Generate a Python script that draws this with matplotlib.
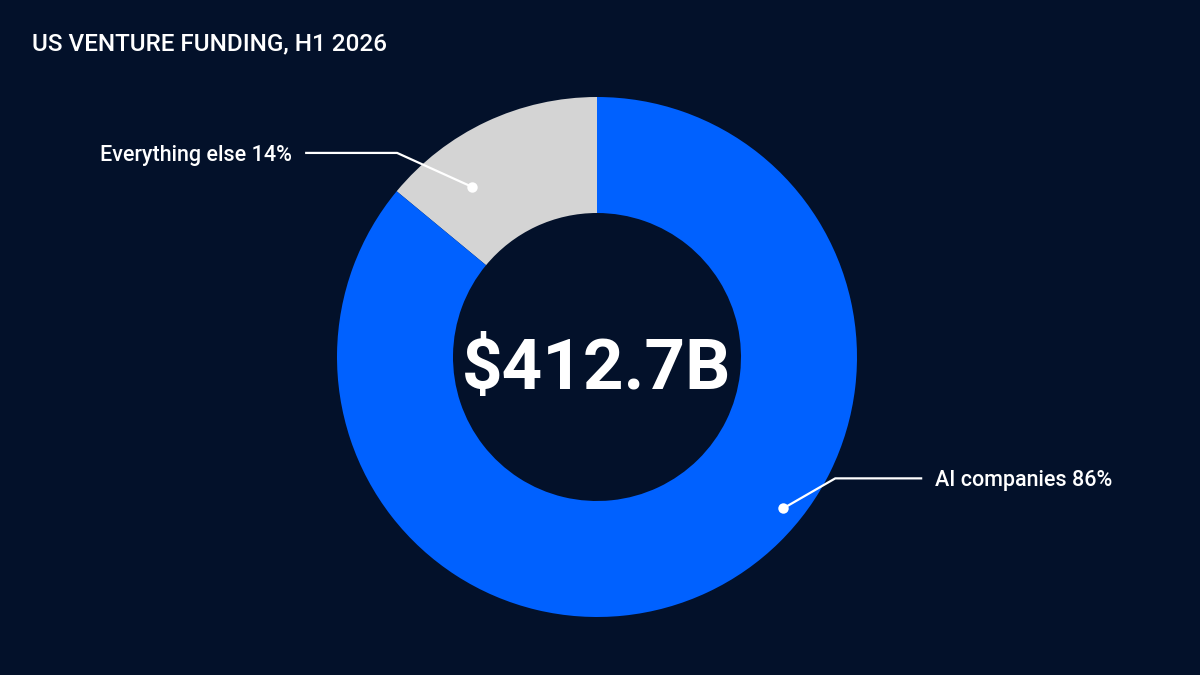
import numpy as np
import matplotlib
matplotlib.use("Agg")
import matplotlib.pyplot as plt

# -- data ---------------------------------------------------------------------
title = "US VENTURE FUNDING, H1 2026"
segments = ["Everything else", "AI companies"]
shares = [14, 86]
total_label = "$412.7B"

# -- style ----------------------------------------------------------------------
BG = "#03112a"
COLORS = ["#d4d4d4", "#0061ff"]
W, H = 1200, 675

fig = plt.figure(figsize=(12, 6.75), dpi=100, facecolor=BG)
ax = fig.add_axes([0, 0, 1, 1])
ax.set_facecolor(BG)

cx, cy = 597, H - 357
r_out, r_in = 260, 144

wedges, _ = ax.pie(shares, colors=COLORS, startangle=90, counterclock=True,
                   radius=r_out, center=(cx, cy),
                   wedgeprops=dict(width=r_out - r_in, linewidth=0))
ax.set_xlim(0, W)
ax.set_ylim(0, H)
ax.set_aspect("equal")
ax.axis("off")

# leader lines: (fraction along wedge, radius, elbow dx, elbow dy, run, side)
leaders = [
    (0.72, 211, -75, 34, -92, "right"),
    (0.583, 240, 52, 30, 87, "left"),
]

for w, name, pct, (frac, rad, ex, ey, run, ha) in zip(wedges, segments, shares, leaders):
    ang = np.deg2rad(w.theta1 + frac * (w.theta2 - w.theta1))
    px, py = cx + rad * np.cos(ang), cy + rad * np.sin(ang)
    kx, ky = px + ex, py + ey
    lx = kx + run
    ax.plot([px, kx, lx], [py, ky, ky], color="white", lw=1.6, solid_capstyle="butt")
    ax.plot(px, py, "o", color="white", ms=7.5, mec="none")
    tx = lx - 13 if ha == "right" else lx + 13
    ax.text(tx, ky, f"{name} {pct}%", color="white", fontsize=15.5, family="Roboto",
            weight="medium", ha=ha, va="center_baseline")

ax.text(cx, H - 389, total_label, color="white", fontsize=51,
        family="Roboto", weight="bold", ha="center", va="baseline")

fig.text(32 / W, 1 - 50 / H, title, color="white", fontsize=17.5, family="Roboto",
         weight="medium", ha="left", va="baseline")

fig.savefig("out.png", dpi=100, facecolor=BG)
